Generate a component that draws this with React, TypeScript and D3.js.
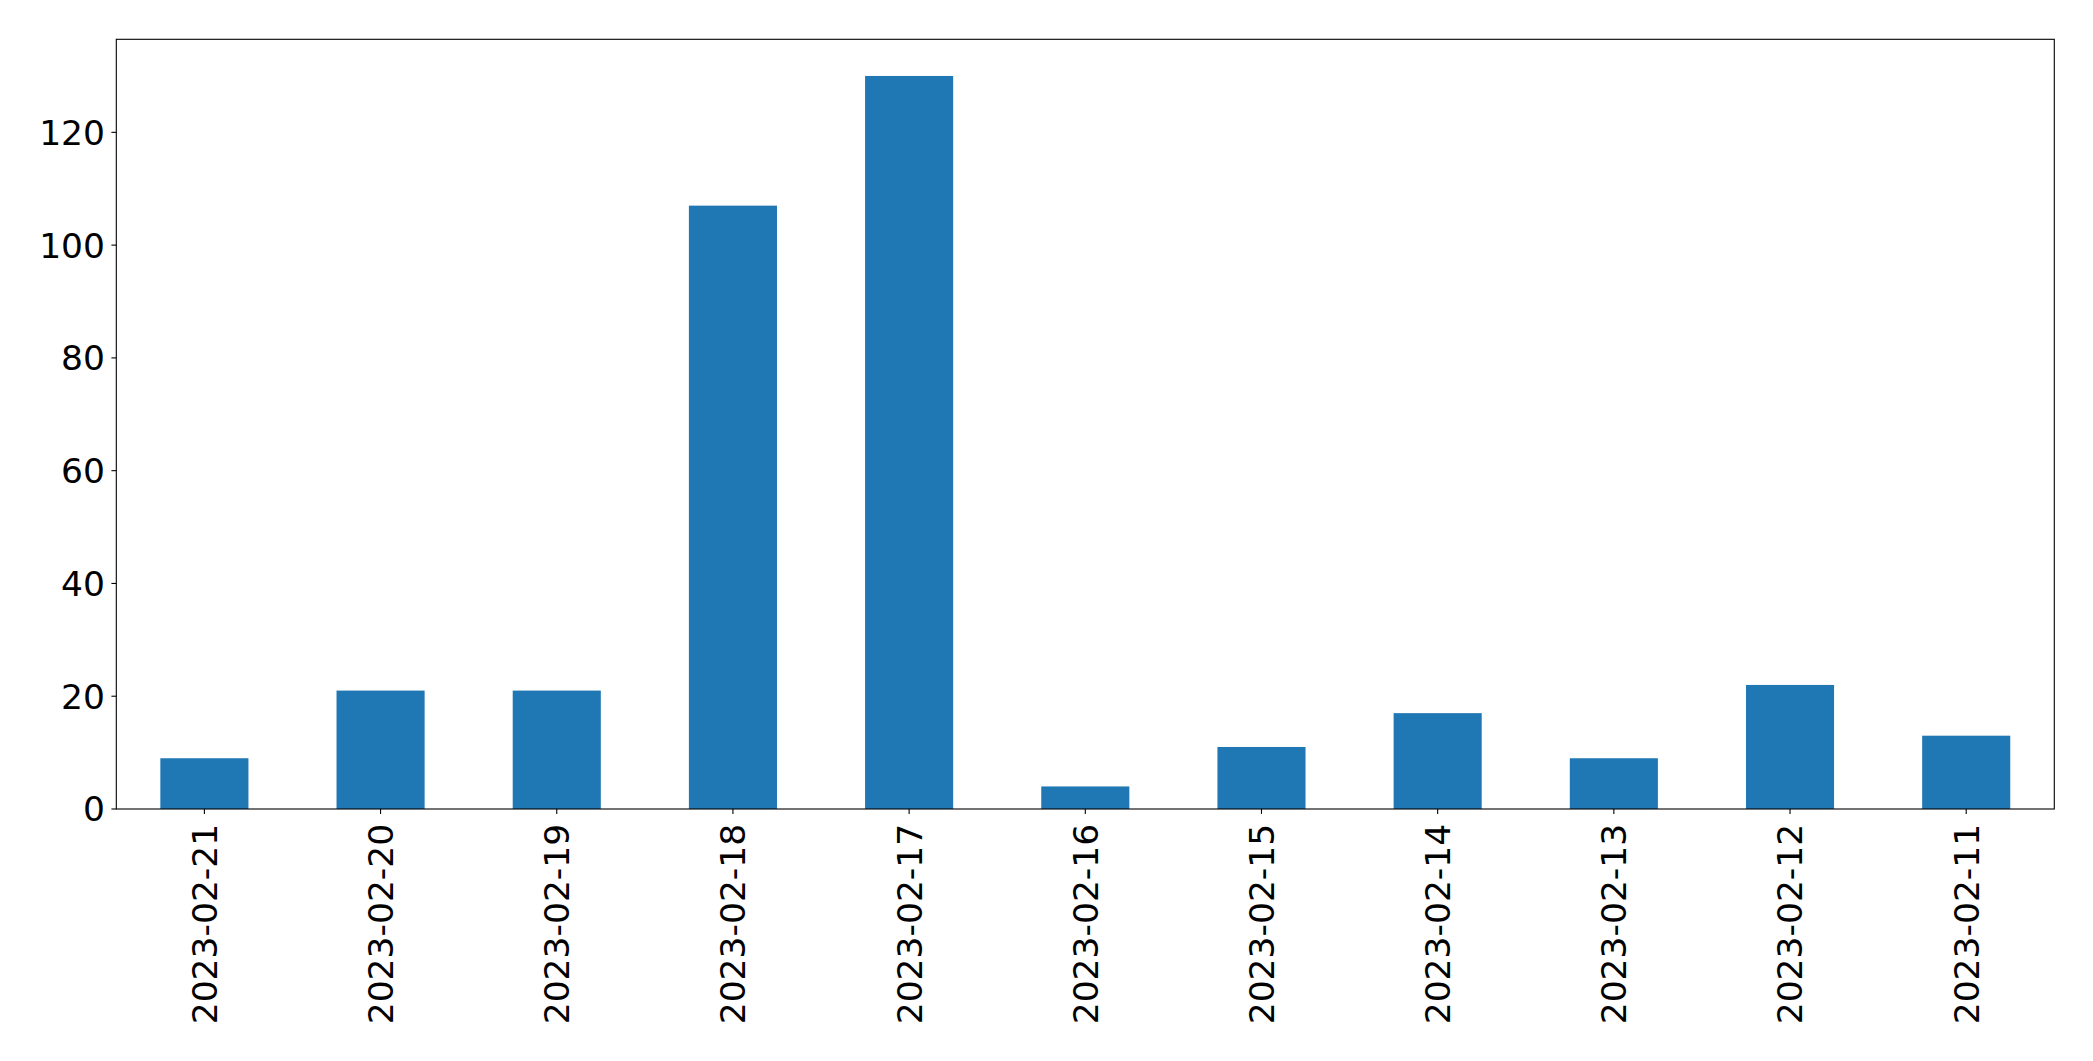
import React from "react";
import * as d3 from "d3";

const categories = [
  "2023-02-21", "2023-02-20", "2023-02-19", "2023-02-18", "2023-02-17", "2023-02-16",
  "2023-02-15", "2023-02-14", "2023-02-13", "2023-02-12", "2023-02-11",
];
const values = [9, 21, 21, 107, 130, 4, 11, 17, 9, 22, 13];
const yTicks = [0, 20, 40, 60, 80, 100, 120];

const W = 2093;
const H = 1061;
const M = { left: 116.3, right: 2054.3, top: 39.3, bottom: 809 };
const FONT = "DejaVu Sans, sans-serif";
const FS = 34.5;
const TICK = 4.9;
const PAD = 4.9;

export default function App() {
  const x = d3
    .scaleLinear()
    .domain([-0.5, categories.length - 0.5])
    .range([M.left, M.right]);
  const yMax = d3.max(values)! * 1.05;
  const y = d3.scaleLinear().domain([0, yMax]).range([M.bottom, M.top]);
  const bw = x(0.25) - x(-0.25);

  return (
    <div style={{ position: "absolute", left: 0, top: 0 }}>
      <svg width={W} height={H} style={{ display: "block", background: "#fff" }}>
        <rect x={0} y={0} width={W} height={H} fill="#fff" />
        {values.map((v, i) => (
          <rect
            key={i}
            x={x(i) - bw / 2}
            y={y(v)}
            width={bw}
            height={y(0) - y(v)}
            fill="#1f77b4"
          />
        ))}
        <rect
          x={M.left}
          y={M.top}
          width={M.right - M.left}
          height={M.bottom - M.top}
          fill="none"
          stroke="#000"
          strokeWidth={1.1}
        />
        {yTicks.map((t) => (
          <g key={t}>
            <line x1={M.left - TICK} x2={M.left} y1={y(t)} y2={y(t)} stroke="#000" strokeWidth={1.1} />
            <text
              x={M.left - TICK - PAD - 1.5}
              y={y(t)}
              dy="0.36em"
              textAnchor="end"
              fontFamily={FONT}
              fontSize={FS}
              fill="#000"
            >
              {t}
            </text>
          </g>
        ))}
        {categories.map((c, i) => (
          <g key={c}>
            <line x1={x(i)} x2={x(i)} y1={M.bottom} y2={M.bottom + TICK} stroke="#000" strokeWidth={1.1} />
            <text
              transform={`translate(${x(i)},${M.bottom + TICK + PAD + 5}) rotate(-90)`}
              dy="0.36em"
              textAnchor="end"
              fontFamily={FONT}
              fontSize={FS}
              fill="#000"
            >
              {c}
            </text>
          </g>
        ))}
      </svg>
    </div>
  );
}
